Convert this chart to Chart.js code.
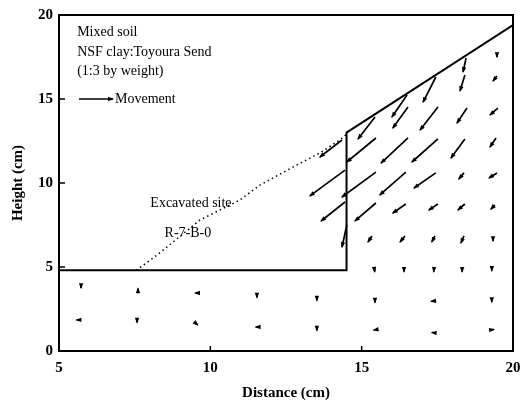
<!DOCTYPE html>
<html>
<head>
<meta charset="utf-8">
<script src="https://cdn.jsdelivr.net/npm/chart.js@4"></script>
<style>
  body { margin: 0; background: #fff; }
  #wrap { width: 520px; height: 408px; }
</style>
</head>
<body>
<div id="wrap"><canvas id="myChart"></canvas></div>
<script>
// excavation boundary (ground surface after cut)
const boundaryX = [5, 14.5, 14.5, 20];
const boundaryY = [4.8, 4.8, 13, 19.4];

// original slope (dotted)
const dottedX = [7.55, 8.24, 9.66, 10.98, 11.64, 12.73, 13.62, 14.28, 14.5];
const dottedY = [4.8, 5.71, 7.8, 8.99, 9.88, 10.95, 11.79, 12.56, 12.9];

// displacement vectors: tail (x0,y0) -> tip (x1,y1)
const arrowX0 = [19.47, 18.45, 18.41, 19.47, 17.45, 16.5, 15.44,
    16.53, 17.52, 18.48, 19.5,
    14.35, 15.47, 16.53, 17.52, 18.41, 19.44,
    14.45, 15.47, 16.46, 17.45, 18.38, 19.47,
    14.45, 15.47, 16.46, 17.52, 18.41, 19.4,
    14.51, 15.34, 16.43, 17.42, 18.38, 19.34,
    15.41, 16.4, 17.39, 18.32, 19.3,
    5.73, 7.61, 9.63, 11.54, 13.52, 15.44, 17.41, 19.3,
    5.68, 7.58, 9.5, 11.6, 13.52, 15.5, 17.44, 19.25];
const arrowY0 = [17.74, 17.44, 16.43, 16.37, 16.31, 15.24, 13.93,
    14.52, 14.52, 14.46, 14.46,
    12.56, 12.68, 12.68, 12.62, 12.62, 12.68,
    10.77, 10.65, 10.65, 10.6, 10.6, 10.6,
    8.87, 8.81, 8.75, 8.75, 8.75, 8.69,
    7.5, 6.85, 6.85, 6.85, 6.85, 6.79,
    4.94, 4.9, 4.9, 4.9, 4.95,
    3.95, 3.55, 3.45, 3.35, 3.18, 3.05, 2.98, 3.07,
    1.85, 1.88, 1.68, 1.43, 1.38, 1.28, 1.07, 1.25];
const arrowX1 = [19.47, 18.35, 18.25, 19.34, 17.03, 16.0, 14.88,
    16.03, 16.93, 18.15, 19.24,
    13.62, 14.51, 15.64, 16.66, 17.95, 19.24,
    13.29, 14.35, 15.6, 16.73, 18.21, 19.21,
    13.66, 14.78, 16.03, 17.22, 18.18, 19.27,
    14.35, 15.21, 16.27, 17.32, 18.28, 19.34,
    15.43, 16.4, 17.38, 18.32, 19.3,
    5.73, 7.61, 9.5, 11.54, 13.52, 15.44, 17.3, 19.3,
    5.58, 7.58, 9.58, 11.5, 13.52, 15.4, 17.32, 19.37];
const arrowY1 = [17.5, 16.61, 15.48, 16.07, 14.82, 13.93, 12.62,
    13.27, 13.15, 13.57, 14.05,
    11.55, 11.25, 11.19, 11.25, 11.49, 12.14,
    9.23, 9.17, 9.29, 9.7, 10.24, 10.3,
    7.74, 7.74, 8.21, 8.39, 8.39, 8.45,
    6.19, 6.49, 6.49, 6.49, 6.43, 6.55,
    4.72, 4.72, 4.72, 4.72, 4.78,
    3.75, 3.72, 3.45, 3.18, 3.0, 2.88, 2.95, 2.92,
    1.85, 1.7, 1.55, 1.43, 1.22, 1.25, 1.1, 1.28];

// legend arrow
const keyX = [5.66, 6.78];
const keyY = [15, 15];

const xTicks = [5, 10, 15, 20];
const yTicks = [0, 5, 10, 15, 20];

function toPoints(xs, ys) {
    return xs.map((x, i) => ({ x: x, y: ys[i] }));
}

const arrowData = [];
arrowX0.forEach((x, i) => {
    arrowData.push({ x: x, y: arrowY0[i] });
    arrowData.push({ x: arrowX1[i], y: arrowY1[i] });
    arrowData.push({ x: arrowX1[i], y: null });
});

const serif = "'Liberation Serif', 'DejaVu Serif', serif";

const framePlugin = {
    id: 'frame',
    afterDatasetsDraw(chart) {
        const ctx = chart.ctx;
        const a = chart.chartArea;
        const xs = chart.scales.x;
        const ys = chart.scales.y;
        ctx.save();
        ctx.strokeStyle = '#000';
        ctx.lineWidth = 2;
        ctx.strokeRect(a.left, a.top, a.right - a.left, a.bottom - a.top);
        // inward ticks
        ctx.lineWidth = 1.5;
        ctx.beginPath();
        xTicks.forEach(v => {
            const px = xs.getPixelForValue(v);
            ctx.moveTo(px, a.bottom);
            ctx.lineTo(px, a.bottom - 5);
        });
        yTicks.forEach(v => {
            const py = ys.getPixelForValue(v);
            ctx.moveTo(a.left, py);
            ctx.lineTo(a.left + 6, py);
        });
        ctx.stroke();

        // arrow heads
        chart.data.datasets.forEach((ds, di) => {
            if (!ds.arrows) return;
            const pts = chart.getDatasetMeta(di).data;
            for (let i = 0; i + 1 < pts.length; i += 3) {
                const p0 = pts[i], p1 = pts[i + 1];
                let ang = Math.atan2(p1.y - p0.y, p1.x - p0.x);
                const L = 4.8, W = 2.2;
                ctx.save();
                ctx.translate(p1.x, p1.y);
                ctx.rotate(ang);
                ctx.fillStyle = '#000';
                ctx.beginPath();
                ctx.moveTo(1.2, 0);
                ctx.lineTo(-L, -W);
                ctx.lineTo(-L, W);
                ctx.closePath();
                ctx.fill();
                ctx.restore();
            }
        });

        // text notes
        ctx.fillStyle = '#000';
        ctx.font = '14px ' + serif;
        ctx.textBaseline = 'middle';
        ctx.textAlign = 'left';
        const lx = xs.getPixelForValue(5.6);
        ctx.fillText('Mixed soil', lx, ys.getPixelForValue(18.99));
        ctx.fillText('NSF clay:Toyoura Send', lx, ys.getPixelForValue(17.8));
        ctx.fillText('(1:3 by weight)', lx, ys.getPixelForValue(16.67));
        ctx.fillText('Movement', xs.getPixelForValue(6.85), ys.getPixelForValue(15));
        ctx.textAlign = 'center';
        ctx.fillText('Excavated site', xs.getPixelForValue(9.36), ys.getPixelForValue(8.81));
        ctx.fillText('R-7-B-0', xs.getPixelForValue(9.26), ys.getPixelForValue(7.02));
        ctx.restore();
    }
};

const ctx = document.getElementById('myChart');

new Chart(ctx, {
    type: 'scatter',
    data: {
        datasets: [{
            data: toPoints(boundaryX, boundaryY),
            showLine: true,
            borderColor: '#000',
            borderWidth: 2,
            pointRadius: 0,
            fill: false
        }, {
            data: toPoints(dottedX, dottedY),
            showLine: true,
            borderColor: '#000',
            borderWidth: 1.5,
            borderDash: [1.5, 3.2],
            pointRadius: 0,
            fill: false
        }, {
            data: arrowData,
            arrows: true,
            showLine: true,
            spanGaps: false,
            borderColor: '#000',
            borderWidth: 1.7,
            pointRadius: 0,
            fill: false
        }, {
            data: [{ x: keyX[0], y: keyY[0] }, { x: keyX[1], y: keyY[1] }, { x: keyX[1], y: null }],
            arrows: true,
            showLine: true,
            borderColor: '#000',
            borderWidth: 1.3,
            pointRadius: 0,
            fill: false
        }]
    },
    options: {
        responsive: true,
        maintainAspectRatio: false,
        animation: false,
        layout: {
            padding: { top: 15, right: 7, left: 0, bottom: 0 }
        },
        plugins: {
            legend: { display: false },
            tooltip: { enabled: false }
        },
        scales: {
            x: {
                type: 'linear',
                min: 5,
                max: 20,
                afterBuildTicks: (axis) => { axis.ticks = xTicks.map(v => ({ value: v })); },
                afterFit: (axis) => {
                    axis.height = 57;
                    axis.paddingLeft = 0;
                    axis.paddingRight = 0;
                },
                ticks: {
                    color: '#000',
                    padding: 8,
                    maxRotation: 0,
                    font: { family: serif, size: 15, weight: 'bold' }
                },
                grid: { display: false, drawTicks: false },
                border: { display: false },
                title: {
                    display: true,
                    text: 'Distance (cm)',
                    color: '#000',
                    padding: { top: 0, bottom: 6 },
                    font: { family: serif, size: 15, weight: 'bold' }
                }
            },
            y: {
                type: 'linear',
                min: 0,
                max: 20,
                afterBuildTicks: (axis) => { axis.ticks = yTicks.map(v => ({ value: v })); },
                afterFit: (axis) => {
                    axis.width = 59;
                    axis.paddingTop = 0;
                    axis.paddingBottom = 0;
                },
                ticks: {
                    color: '#000',
                    padding: 6,
                    font: { family: serif, size: 15, weight: 'bold' }
                },
                grid: { display: false, drawTicks: false },
                border: { display: false },
                title: {
                    display: true,
                    text: 'Height (cm)',
                    color: '#000',
                    padding: { top: 9, bottom: 0 },
                    font: { family: serif, size: 15, weight: 'bold' }
                }
            }
        }
    },
    plugins: [framePlugin]
});
</script>
</body>
</html>
